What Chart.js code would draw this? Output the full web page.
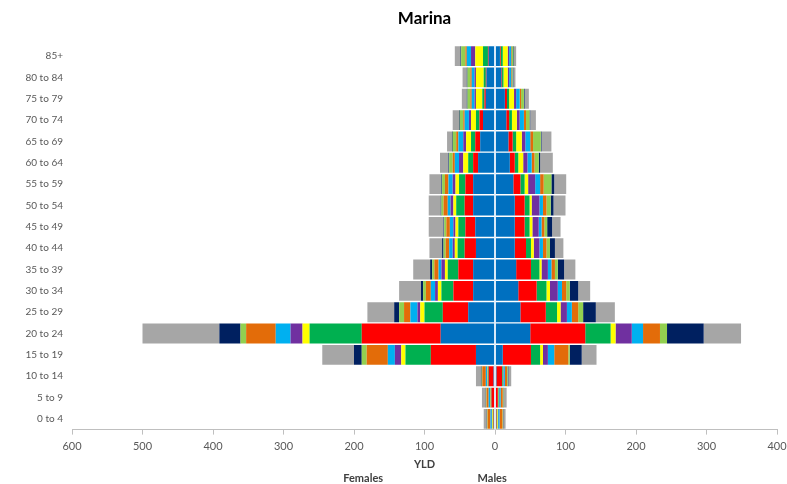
<!DOCTYPE html>
<html>
<head>
<meta charset="utf-8">
<script src="https://cdn.jsdelivr.net/npm/chart.js@4.4.1/dist/chart.umd.min.js"></script>
<style>
  html, body { margin: 0; padding: 0; background: #ffffff; }
  #wrap { width: 787px; height: 484px; position: relative; }
</style>
</head>
<body>
<div id="wrap"><canvas id="c" width="787" height="484"></canvas></div>
<script>
// Age groups, oldest at the top
const ages = ['85+', '80 to 84', '75 to 79', '70 to 74', '65 to 69', '60 to 64', '55 to 59',
  '50 to 54', '45 to 49', '40 to 44', '35 to 39', '30 to 34', '25 to 29', '20 to 24',
  '15 to 19', '10 to 14', '5 to 9', '0 to 4'];

// YLD by cause group, females (plotted to the left of zero)
const femaleBlue   = [9, 12, 13, 17, 21, 24, 31, 31, 28, 27, 31, 31, 38, 77, 27, 2, 1, 1];
const femaleRed    = [1, 1, 2, 5, 7, 7, 11, 12, 14, 16, 21, 28, 36, 112, 64, 7, 4, 1];
const femaleGreen  = [7, 3, 3, 5, 6, 7, 9, 12, 10, 10, 15, 17, 26, 74, 36, 1, 1, 1];
const femaleYellow = [11, 11, 9, 7, 7, 7, 5, 4, 4, 4, 4, 5, 6, 10, 6, 0.5, 0.5, 1];
const femalePurple = [6, 2, 2, 3, 4, 6, 4, 4, 3, 3, 5, 4, 4, 17, 9, 0.5, 0.5, 0.5];
const femaleCyan   = [6, 4, 4, 6, 7, 6, 6, 4, 5, 5, 4, 6, 10, 21, 10, 2, 2, 2];
const femaleOrange = [2, 2, 2, 2, 3, 3, 5, 6, 5, 5, 6, 7, 9, 42, 30, 5, 3, 4];
const femaleLime   = [6, 4, 4, 5, 5, 5, 4, 3, 3, 3, 3, 4, 7, 8, 7, 1, 1, 1];
const femaleNavy   = [1, 1, 1, 1, 1, 1, 1, 1, 1, 2, 3, 3, 7, 30, 11, 1, 0.5, 0.5];
const femaleGrey   = [8, 6, 7, 9, 7, 12, 17, 17, 21, 18, 24, 31, 38, 109, 45, 7, 5, 4];

// YLD by cause group, males (plotted to the right of zero)
const maleBlue   = [7, 9, 14, 16, 19, 21, 26, 28, 28, 28, 30, 33, 36, 50, 11, 2, 1, 1];
const maleRed    = [1, 1, 3, 4, 6, 7, 10, 14, 14, 16, 21, 26, 36, 78, 40, 8, 3, 1];
const maleGreen  = [3, 2, 3, 4, 5, 5, 6, 7, 7, 7, 12, 14, 16, 36, 13, 1, 1, 1];
const maleYellow = [7, 6, 7, 7, 8, 7, 5, 3, 4, 4, 3, 5, 5, 7, 4, 0.5, 0.5, 1];
const malePurple = [2, 2, 3, 4, 5, 6, 10, 11, 9, 8, 9, 11, 9, 23, 7, 0.5, 0.5, 0.5];
const maleCyan   = [3, 3, 5, 6, 7, 6, 7, 5, 4, 5, 5, 6, 7, 16, 9, 2, 2, 2];
const maleOrange = [1, 1, 2, 3, 4, 4, 5, 5, 4, 5, 5, 6, 9, 24, 20, 3, 3, 4];
const maleLime   = [2, 1, 4, 5, 11, 6, 11, 6, 4, 5, 4, 5, 7, 10, 2, 1, 1, 1];
const maleNavy   = [1, 1, 1, 1, 1, 2, 4, 4, 7, 7, 9, 12, 18, 52, 17, 1, 0.5, 0.5];
const maleGrey   = [3, 3, 6, 8, 14, 18, 17, 17, 12, 12, 16, 17, 27, 53, 21, 4, 4, 3];

// X axis ticks (absolute YLD values shown on both sides)
const xTicks = [-600, -500, -400, -300, -200, -100, 0, 100, 200, 300, 400];

// Series in stacking order, from zero outwards
const series = [
  { f: femaleBlue,   m: maleBlue,   color: '#0070C0' },
  { f: femaleRed,    m: maleRed,    color: '#FF0000' },
  { f: femaleGreen,  m: maleGreen,  color: '#00B050' },
  { f: femaleYellow, m: maleYellow, color: '#FFFF00' },
  { f: femalePurple, m: malePurple, color: '#7030A0' },
  { f: femaleCyan,   m: maleCyan,   color: '#00B0F0' },
  { f: femaleOrange, m: maleOrange, color: '#E36C09' },
  { f: femaleLime,   m: maleLime,   color: '#92D050' },
  { f: femaleNavy,   m: maleNavy,   color: '#002060' },
  { f: femaleGrey,   m: maleGrey,   color: '#A6A6A6' }
];

const datasets = [];
series.forEach((s, i) => {
  const common = {
    backgroundColor: s.color,
    borderWidth: 0,
    barPercentage: 0.93,
    categoryPercentage: 1.0,
    stack: 'yld'
  };
  datasets.push(Object.assign({ label: 'F' + (i + 1), data: s.f.map(v => -v) }, common));
  datasets.push(Object.assign({ label: 'M' + (i + 1), data: s.m.slice() }, common));
});

// Thin light line at zero, over the bars, plus the sex labels under the axis title
const zeroLine = {
  id: 'zeroLine',
  afterDatasetsDraw(chart) {
    const { ctx, chartArea, scales } = chart;
    const x0 = scales.x.getPixelForValue(0);
    ctx.save();
    ctx.strokeStyle = 'rgba(225,240,252,0.9)';
    ctx.lineWidth = 2;
    ctx.beginPath();
    ctx.moveTo(x0, chartArea.top);
    ctx.lineTo(x0, chartArea.bottom);
    ctx.stroke();
    ctx.restore();
  },
  afterDraw(chart) {
    const { ctx, scales } = chart;
    const y = 478;
    ctx.save();
    ctx.font = 'bold 11px Lato, "Open Sans", sans-serif';
    ctx.fillStyle = '#404040';
    ctx.textAlign = 'center';
    ctx.textBaseline = 'middle';
    ctx.fillText('Females', scales.x.getPixelForValue(-187), y);
    ctx.fillText('Males', scales.x.getPixelForValue(-4), y);
    ctx.restore();
  }
};

new Chart(document.getElementById('c'), {
  type: 'bar',
  data: { labels: ages, datasets: datasets },
  plugins: [zeroLine],
  options: {
    indexAxis: 'y',
    responsive: false,
    animation: false,
    layout: { padding: { left: 22, right: 0, top: 0, bottom: 9 } },
    plugins: {
      legend: { display: false },
      tooltip: { enabled: false },
      title: {
        display: true,
        text: 'Marina',
        fullSize: false,
        color: '#000000',
        font: { family: 'Lato, "Open Sans", sans-serif', size: 17, weight: 'bold' },
        padding: { top: 8, bottom: 17 }
      }
    },
    scales: {
      x: {
        stacked: true,
        min: -600,
        max: 400,
        afterBuildTicks(axis) { axis.ticks = xTicks.map(v => ({ value: v })); },
        afterFit(scale) { scale.paddingRight = 10; },
        ticks: {
          color: '#595959',
          font: { family: 'Lato, "Open Sans", sans-serif', size: 11 },
          padding: 5,
          maxRotation: 0,
          callback: v => String(Math.abs(v))
        },
        grid: { display: true, drawOnChartArea: false, drawTicks: true, tickLength: 5, color: '#BFBFBF' },
        border: { display: true, color: '#BFBFBF' },
        title: {
          display: true,
          text: 'YLD',
          color: '#404040',
          font: { family: 'Lato, "Open Sans", sans-serif', size: 11, weight: 'bold' },
          padding: { top: 0, bottom: 4 }
        }
      },
      y: {
        stacked: true,
        afterFit(scale) { scale.width = 50; },
        ticks: {
          color: '#595959',
          font: { family: 'Lato, "Open Sans", sans-serif', size: 10 },
          padding: 9
        },
        grid: { display: false, drawTicks: false },
        border: { display: false }
      }
    }
  }
});
</script>
</body>
</html>
